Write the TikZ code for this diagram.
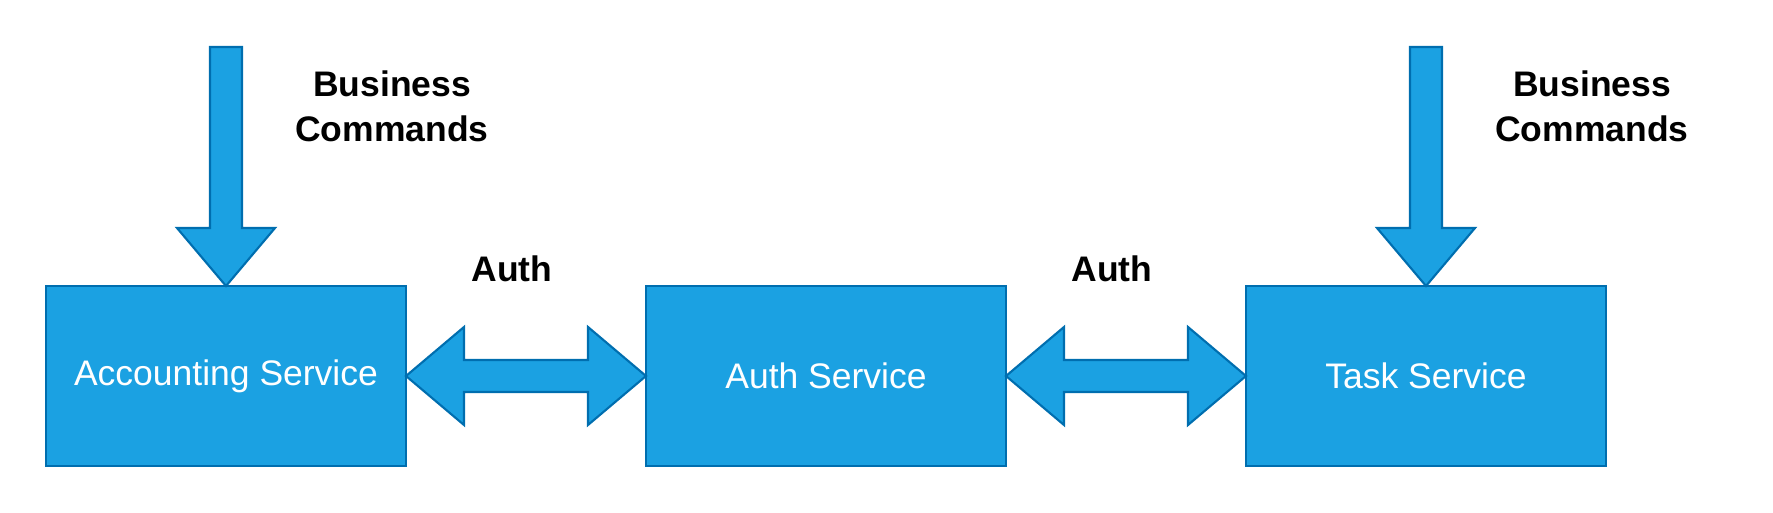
\documentclass[tikz,border=0pt]{standalone}
\usepackage{fontspec}
\setmainfont{Liberation Sans}
\usetikzlibrary{positioning}
\definecolor{svcfill}{HTML}{1BA1E2}
\definecolor{svcline}{HTML}{006EAF}
\begin{document}
\begin{tikzpicture}
        \tikzset{svc/.style={draw=svcline, fill=svcfill, line width=1.2pt, outer sep=0pt, minimum width=7.2cm, minimum height=3.6cm, text=white, font=\fontsize{20.2}{25.5}\selectfont},
                 blk/.style={draw=svcline, fill=svcfill, line width=1.2pt, line join=miter},
                 lbl/.style={inner sep=0pt, align=center, font=\fontsize{20.2}{25.6}\selectfont\bfseries}}
        \useasboundingbox (0,0) rectangle (35.46,-10.26);

        \draw node[svc] (acc) at (4.52,-7.52) {Accounting Service};
        \draw node[svc, right=4.8cm of acc] (auth) {Auth Service};
        \draw node[svc, right=4.8cm of auth] (task) {Task Service};

        % incoming commands
        \draw[blk] (acc.north) -- ++(-0.98,1.16) -- ++(0.66,0) -- ++(0,3.62) -- ++(0.64,0) -- ++(0,-3.62) -- ++(0.66,0) -- cycle;
        \draw[blk] (task.north) -- ++(-0.98,1.16) -- ++(0.66,0) -- ++(0,3.62) -- ++(0.64,0) -- ++(0,-3.62) -- ++(0.66,0) -- cycle;
        \node[lbl] (cmdacc) at ([shift={(3.32,3.6)}]acc.north) {Business\\Commands};
        \node[lbl] (cmdtask) at ([shift={(3.32,3.6)}]task.north) {Business\\Commands};

        % auth links
        \draw[blk] (acc.east) -- ++(1.16,0.98) -- ++(0,-0.66) -- ++(2.48,0) -- ++(0,0.66) -- (auth.west) -- ++(-1.16,-0.98) -- ++(0,0.66) -- ++(-2.48,0) -- ++(0,-0.66) -- cycle;
        \draw[blk] (auth.east) -- ++(1.16,0.98) -- ++(0,-0.66) -- ++(2.48,0) -- ++(0,0.66) -- (task.west) -- ++(-1.16,-0.98) -- ++(0,0.66) -- ++(-2.48,0) -- ++(0,-0.66) -- cycle;
        \node[lbl] (authl1) at ([shift={(2.12,0.34)}]acc.north east) {Auth};
        \node[lbl] (authl2) at ([shift={(2.12,0.34)}]auth.north east) {Auth};
    \end{tikzpicture}
\end{document}
